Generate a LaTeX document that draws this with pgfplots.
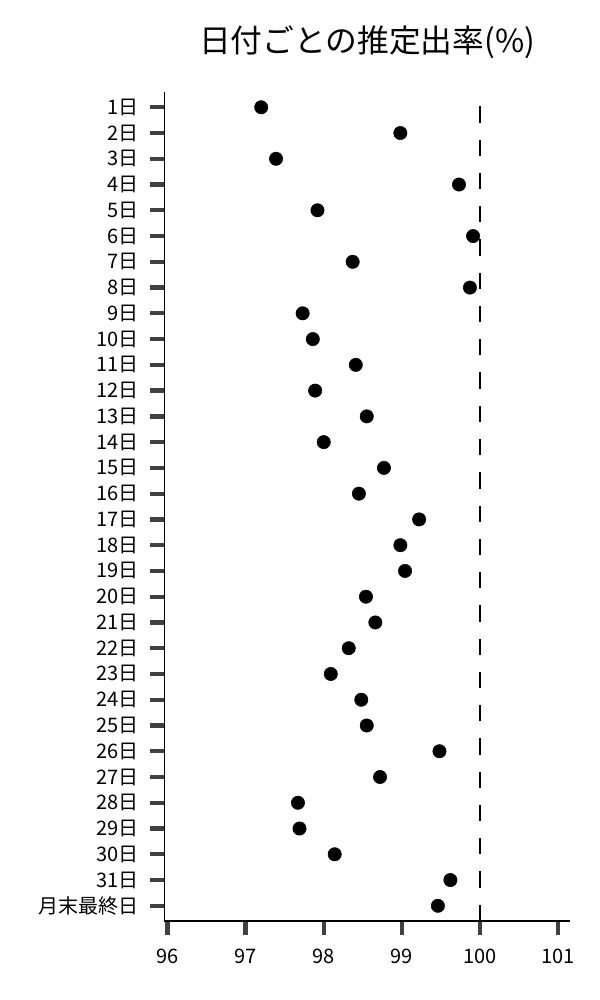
\documentclass[border=0pt]{standalone}
\usepackage{fontspec}
\setmainfont{Noto Sans CJK JP}
\usepackage{pgfplots}
\pgfplotsset{compat=1.18}

\begin{document}
\begin{tikzpicture}
% 600x1000 px page, 1 px = 0.75 pt
\path[use as bounding box] (0,0) rectangle (450pt,750pt);
\begin{axis}[%
width=304.3pt,
height=621.5pt,
at={(123.2pt,59.25pt)},
anchor=south west,
scale only axis,
xmin=95.96,
xmax=101.15,
ymin=-0.59,
ymax=31.58,
axis x line*=bottom,
axis y line*=left,
axis line style={line width=1pt, black, -},
xtick={96,97,98,99,100,101},
ytick={0,...,31},
yticklabels={月末最終日,31日,30日,29日,28日,27日,26日,25日,24日,23日,22日,21日,20日,19日,18日,17日,16日,15日,14日,13日,12日,11日,10日,9日,8日,7日,6日,5日,4日,3日,2日,1日},
tick align=outside,
major tick length=10.5pt,
tick style={line width=3.2pt, color=black!75},
/pgf/number format/assume math mode=true,
ticklabel style={font=\fontsize{15}{18}\selectfont},
yticklabel style={inner sep=0pt, xshift=-8.5pt},
xticklabel style={inner sep=0pt, yshift=-10pt},
title={日付ごとの推定出率(\%)},
title style={at={(0.5,1)}, anchor=base, inner sep=0pt, yshift=23.5pt, font=\fontsize{23.8}{28}\selectfont},
]
% reference line at 100%, drawn upward from the bottom
\addplot[forget plot, black, line width=1.7pt, dash pattern=on 12.2pt off 12.75pt] coordinates {(100,-0.59) (100,31.58)};
\addplot[only marks, mark=*, mark size=5pt, color=black, mark options={solid, fill=black}] table[row sep=crcr] {%
97.20	31\\
98.98	30\\
97.39	29\\
99.73	28\\
97.92	27\\
99.91	26\\
98.37	25\\
99.87	24\\
97.73	23\\
97.86	22\\
98.41	21\\
97.89	20\\
98.55	19\\
98.00	18\\
98.77	17\\
98.45	16\\
99.22	15\\
98.98	14\\
99.04	13\\
98.54	12\\
98.66	11\\
98.32	10\\
98.09	9\\
98.48	8\\
98.55	7\\
99.48	6\\
98.72	5\\
97.67	4\\
97.69	3\\
98.14	2\\
99.62	1\\
99.46	0\\
};
\end{axis}
\end{tikzpicture}
\end{document}
